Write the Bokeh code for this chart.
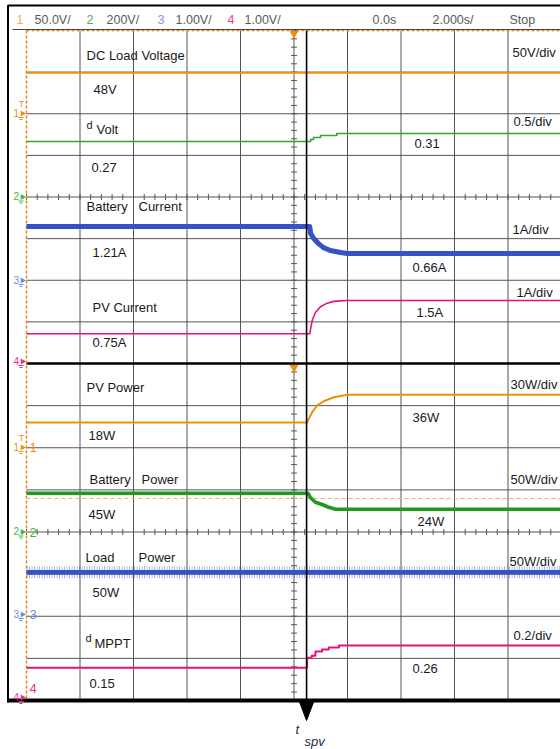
import numpy as np
from bokeh.plotting import figure
from bokeh.models import Range1d
from bokeh.core.properties import value
from bokeh.embed import file_html
from bokeh.resources import INLINE

# ---------------- measured traces (time in s, values in trace units) ----------------
dc_load_t = [-10, 10]
dc_load_v = [48, 48]                                   # V

dvolt_t = [-10, 0.62, 0.62, 0.73, 0.73, 0.99, 0.99, 1.60, 1.60, 10]
dvolt_v = [0.27, 0.27, 0.28, 0.28, 0.29, 0.29, 0.30, 0.30, 0.31, 0.31]

batt_i_t = [-10, 0.59, 0.62, 0.73, 0.92, 1.10, 1.36, 1.74, 1.99, 10]
batt_i_v = [1.21, 1.21, 1.07, 0.97, 0.86, 0.78, 0.72, 0.68, 0.66, 0.66]   # A

pv_i_t = [-10, 0.59, 0.62, 0.68, 0.80, 0.99, 1.24, 1.48, 1.99, 10]
pv_i_v = [0.75, 0.75, 0.86, 1.05, 1.23, 1.36, 1.44, 1.48, 1.50, 1.50]     # A

pv_p_t = [-10, 0.49, 0.55, 0.68, 0.87, 1.11, 1.49, 1.99, 10]
pv_p_v = [18, 18, 20.4, 24.7, 29.1, 31.8, 34.4, 36, 36]                    # W

batt_p_t = [-10, 0.52, 0.62, 0.80, 1.05, 1.30, 1.55, 10]
batt_p_v = [45, 45, 39, 33.2, 30.2, 26.6, 24, 24]                          # W

load_p_t = [-10, 10]
load_p_v = [50, 50]                                                        # W

dmppt_t = [-10, 0.49, 0.49, 0.66, 0.66, 0.80, 0.80, 1.05, 1.05, 1.30, 1.30, 1.68, 1.68, 10]
dmppt_v = [0.15, 0.15, 0.20, 0.20, 0.21, 0.21, 0.23, 0.23, 0.24, 0.24, 0.25, 0.25, 0.26, 0.26]

t_spv = 0.47          # instant of the PV step (s)

# ---------------- texts ----------------
header_texts = ["1", "50.0V/", "2", "200V/", "3", "1.00V/", "4", "1.00V/", "0.0s", "2.000s/", "Stop"]
trace_names = ["DC Load Voltage", "PV Current", "PV Power"]
split_names = [("Battery", "Current"), ("Battery", "Power"), ("Load", "Power")]
scale_texts = ["50V/div", "0.5/div", "1A/div", "1A/div", "30W/div", "50W/div", "50W/div", "0.2/div"]

# ---------------- screen layout (pixels) ----------------
W, H = 560, 749
X0, X1 = 26, 561                 # horizontal extent of the graticule
Y_TOP, Y_MID, Y_BOT = 30, 363, 700
T0, T1 = -10.0, 10.0             # 10 divisions x 2 s/div
DIV_TOP = (Y_MID - Y_TOP) / 8
DIV_BOT = (Y_BOT - Y_MID) / 8

ORANGE = "#f0900a"
GREEN = "#34a534"
DGREEN = "#1f9a1f"
BLUE = "#3553c4"
PINK = "#e0157a"
GRID = "#555555"
INK = "#1a1a1a"

# per-trace vertical view: (ground position in px, units per division, division px)
views = {
    "dc_load": (112.2, 50.0, DIV_TOP),
    "dvolt": (195.0, 0.208, DIV_TOP),
    "batt_i": (285.4, 0.848, DIV_TOP),
    "pv_i": (366.6, 0.9375, DIV_TOP),
    "pv_p": (449.7, 27.37, DIV_BOT),
    "batt_p": (527.0, 55.3, DIV_BOT),
    "load_p": (613.9, 50.0, DIV_BOT),
    "dmppt": (697.7, 0.2078, DIV_BOT),
}

p = figure(width=W, height=H, x_range=Range1d(0, W), y_range=Range1d(H, 0),
           output_backend="svg", toolbar_location=None, title=None,
           x_axis_type=None, y_axis_type=None, min_border=0)
p.outline_line_color = None
p.background_fill_color = "white"
p.border_fill_color = "white"

sec_per_px = (T1 - T0) / (X1 - X0)
p.extra_x_ranges = {"time": Range1d(T0 - X0 * sec_per_px, T0 + (W - X0) * sec_per_px)}
yr = {}
for name, (g, per_div, dpx) in views.items():
    upp = per_div / dpx
    yr[name] = Range1d((g - H) * upp, g * upp)
p.extra_y_ranges = yr

FONT = value("Liberation Sans")


def txt(xs, ys, texts, size="13px", color=INK, style="normal", align="left"):
    p.text(x=xs, y=ys, text=texts, text_font=FONT, text_font_size=size,
           text_color=color, text_baseline="middle", text_align=align,
           text_font_style=style)


# ---------------- graticule ----------------
vx = [X0 + k * (X1 - X0) / 10 for k in range(1, 11)]
p.segment(x0=vx, y0=[Y_TOP] * len(vx), x1=vx, y1=[Y_BOT] * len(vx), line_color=GRID, line_width=1)
hy = [Y_TOP + k * DIV_TOP for k in range(1, 8)] + [Y_MID + k * DIV_BOT for k in range(1, 8)]
p.segment(x0=[X0] * len(hy), y0=hy, x1=[X1] * len(hy), y1=hy, line_color=GRID, line_width=1)

# minor ticks on the centre axes
xc = X0 + 5 * (X1 - X0) / 10
ty = np.concatenate([np.arange(Y_TOP, Y_MID, DIV_TOP / 5), np.arange(Y_MID, Y_BOT, DIV_BOT / 5)])
p.segment(x0=xc - 3, y0=ty, x1=xc + 3, y1=ty, line_color=GRID, line_width=1)
tx = np.arange(X0, X1, (X1 - X0) / 50)
for yc in (Y_TOP + 4 * DIV_TOP, Y_MID + 4 * DIV_BOT):
    p.segment(x0=tx, y0=yc - 3, x1=tx, y1=yc + 3, line_color=GRID, line_width=1)

# panel separator
p.segment(x0=[X0], y0=[Y_MID], x1=[W], y1=[Y_MID], line_color="black", line_width=2.5)

# orange position / trigger markers
p.segment(x0=[X0], y0=[Y_TOP], x1=[X0], y1=[Y_BOT], line_color="#e0861a", line_width=1.5, line_dash="3 2")
p.segment(x0=[X0], y0=[Y_TOP], x1=[W], y1=[Y_TOP], line_color="#e0861a", line_width=1.5, line_dash="3 2")
p.segment(x0=[X0], y0=[498], x1=[W], y1=[498], line_color="#f5b06a", line_width=1.2, line_dash="4 3")
p.scatter(x=[xc, xc], y=[33, 367], marker="inverted_triangle", size=9, fill_color="#f0900a", line_color=None)

# ---------------- traces ----------------
def trace(name, t, v, color, width, alpha=1.0):
    p.line(t, v, x_range_name="time", y_range_name=name, line_color=color,
           line_width=width, line_alpha=alpha, line_join="round")


def noise_band(name, t, v, color, half_px, alpha=0.55):
    # sampling noise drawn as a hatched band around the trace
    g, per_div, dpx = views[name]
    d = half_px * per_div / dpx
    lo = [x - d for x in v]
    hi = [x + d for x in v]
    p.varea(x=t, y1=lo, y2=hi, x_range_name="time", y_range_name=name,
            fill_alpha=0, hatch_pattern="vertical_line", hatch_color=color,
            hatch_scale=2.5, hatch_weight=1, hatch_alpha=alpha)


trace("dc_load", dc_load_t, dc_load_v, ORANGE, 2.2)
trace("dvolt", dvolt_t, dvolt_v, GREEN, 1.6)
trace("batt_i", batt_i_t, batt_i_v, BLUE, 5)
trace("pv_i", pv_i_t, pv_i_v, PINK, 1.6)
trace("pv_p", pv_p_t, pv_p_v, ORANGE, 2)
trace("batt_p", batt_p_t, batt_p_v, DGREEN, 3.6)
noise_band("load_p", load_p_t, load_p_v, BLUE, 6)
trace("load_p", load_p_t, load_p_v, BLUE, 4.5)
trace("dmppt", dmppt_t, dmppt_v, PINK, 2)

# event line and arrow
p.segment(x0=[t_spv], y0=[Y_TOP], x1=[t_spv], y1=[Y_BOT + 2], x_range_name="time",
          line_color="black", line_width=1.6)
p.patch(x=[t_spv - 0.27, t_spv + 0.27, t_spv], y=[701, 701, 720], x_range_name="time",
        fill_color="black", line_color="black")

# ---------------- outer frame and header ----------------
p.segment(x0=[7.5], y0=[5], x1=[7.5], y1=[702], line_color="black", line_width=2)
p.segment(x0=[7], y0=[5], x1=[W], y1=[5], line_color="black", line_width=2)
p.segment(x0=[7], y0=[Y_BOT], x1=[W], y1=[Y_BOT], line_color="black", line_width=4)
p.segment(x0=[12], y0=[29], x1=[W], y1=[29], line_color="#444444", line_width=1)

hdr_x = [16, 34, 86, 106, 157, 175, 227, 244, 372, 432, 509]
hdr_c = ["#f5ae45", "#5a5a5a", "#45b845", "#5a5a5a", "#8898e6", "#5a5a5a", "#ec3d8d", "#5a5a5a",
         "#5a5a5a", "#5a5a5a", "#5a5a5a"]
p.text(x=hdr_x, y=[19] * len(hdr_x), text=header_texts, text_font=FONT, text_font_size="12.5px",
       text_color=hdr_c, text_baseline="middle")

# channel ground markers in the left margin
ch_colors = [ORANGE, "#3cb83c", "#7488e0", "#e8308a"]
gy = [113, 196.5, 280, 361, 447, 531.5, 614, 697]
gc = ch_colors * 2
p.text(x=[13] * 8, y=[g - 1 for g in gy], text=["1", "2", "3", "4"] * 2, text_font=FONT,
       text_font_size="10px", text_color=gc, text_baseline="middle")
p.scatter(x=[22] * 8, y=gy, marker="triangle", angle=-np.pi / 2, size=6, fill_color=gc, line_color=None)
p.segment(x0=[18] * 8, y0=[g + 4 for g in gy], x1=[23] * 8, y1=[g + 4 for g in gy], line_color=gc, line_width=1)
p.segment(x0=[19] * 8, y0=[g + 6 for g in gy], x1=[22] * 8, y1=[g + 6 for g in gy], line_color=gc, line_width=1)
p.text(x=[21, 21], y=[103, 437], text=["T", "T"], text_font=FONT, text_font_size="9px",
       text_color=ORANGE, text_baseline="middle", text_align="center")
p.text(x=[29, 29, 29, 29], y=[447, 531.5, 614, 688], text=["1", "2", "3", "4"], text_font=FONT,
       text_font_size="13px", text_color=ch_colors, text_baseline="middle")

# ---------------- annotations ----------------
txt([86, 92, 86], [55, 307, 387], trace_names)
txt([86, 138, 89, 141, 85, 138], [206, 206, 479, 479, 557, 557],
    [s for pair in split_names for s in pair])

# superscript-d names
txt([86, 85], [124, 637], ["d", "d"], size="11px")
txt([96, 94], [129, 643], ["Volt", "MPPT"])

# values before the step
fmt = lambda v, u="": f"{v:g}{u}"
txt([93, 91, 92, 92, 88, 88, 92, 89], [89, 167, 252, 342, 435, 514, 592, 683],
    [fmt(dc_load_v[0], "V"), fmt(dvolt_v[0]), fmt(batt_i_v[0], "A"), fmt(pv_i_v[0], "A"),
     fmt(pv_p_v[0], "W"), fmt(batt_p_v[0], "W"), fmt(load_p_v[0], "W"), fmt(dmppt_v[0])])
# values after the step
txt([414, 412, 416, 412, 417, 412], [143, 267, 312, 417, 521, 668],
    [fmt(dvolt_v[-1]), fmt(batt_i_v[-1], "A"), fmt(pv_i_v[-1], "A"),
     fmt(pv_p_v[-1], "W"), fmt(batt_p_v[-1], "W"), fmt(dmppt_v[-1])])

# scale annotations on the right
txt([512, 513, 512, 516, 510, 510, 509, 513], [52, 121, 229, 292, 384, 479, 561, 635], scale_texts)

# event label
txt([295], [729], ["t"], size="13px", color="#1c2a48", style="italic")
txt([304], [741], ["spv"], size="13px", color="#1c2a48", style="italic")

open("out.html", "w").write(file_html(p, INLINE))
